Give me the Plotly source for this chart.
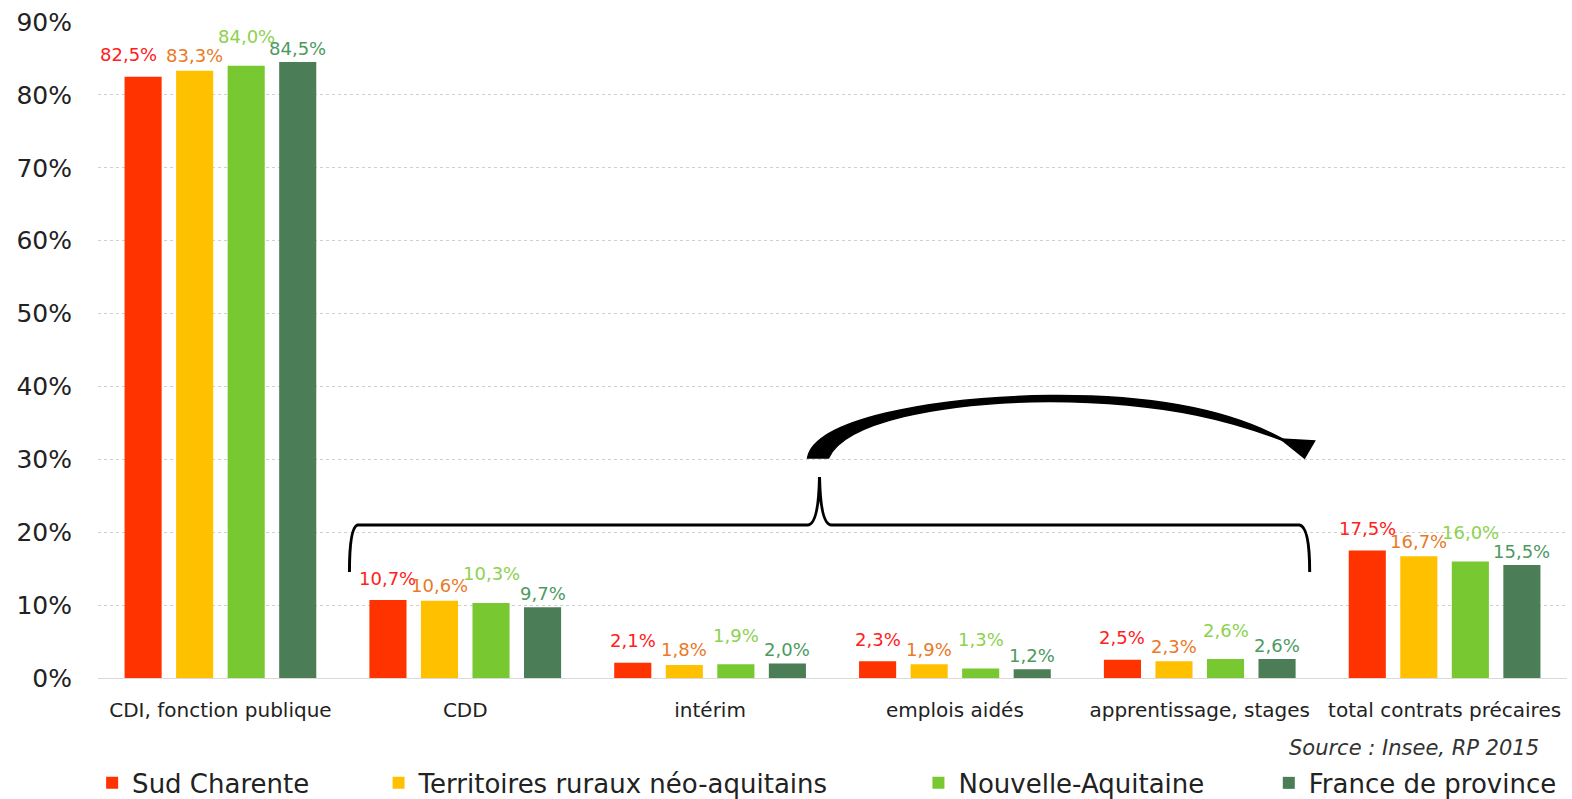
import plotly.graph_objects as go

categories = ["CDI, fonction publique", "CDD", "intérim", "emplois aidés",
              "apprentissage, stages", "total contrats précaires"]
series_names = ["Sud Charente", "Territoires ruraux néo-aquitains",
                "Nouvelle-Aquitaine", "France de province"]
sud_charente = [82.5, 10.7, 2.1, 2.3, 2.5, 17.5]
territoires_ruraux = [83.3, 10.6, 1.8, 1.9, 2.3, 16.7]
nouvelle_aquitaine = [84.0, 10.3, 1.9, 1.3, 2.6, 16.0]
france_province = [84.5, 9.7, 2.0, 1.2, 2.6, 15.5]
y_tick_values = [0, 10, 20, 30, 40, 50, 60, 70, 80, 90]
y_tick_labels = ["0%", "10%", "20%", "30%", "40%", "50%", "60%", "70%", "80%", "90%"]
source_text = "Source : Insee, RP 2015"

series_values = [sud_charente, territoires_ruraux, nouvelle_aquitaine, france_province]
bar_colors = ["#FF3300", "#FFC000", "#78C832", "#4B7D57"]
label_colors = ["#FF2020", "#E87A28", "#8CD24E", "#4C9A5E"]
label_shift = [22, 15, 29, 14]
label_xnudge = {(0, 0): -15}
legend_x = [-0.004, 0.191, 0.5585, 0.797]

FONT = "DejaVu Sans"
BARGAP = 0.158

fig = go.Figure()
legend_keys = ["legend", "legend2", "legend3", "legend4"]
for j, (name, vals) in enumerate(zip(series_names, series_values)):
    fig.add_trace(go.Bar(
        x=categories, y=vals, name=name, marker_color=bar_colors[j],
        marker_line_width=0, legend=legend_keys[j], hoverinfo="x+y+name",
    ))

# value labels
slot = (1 - BARGAP) / 4
annotations = []
for j, vals in enumerate(series_values):
    for i, v in enumerate(vals):
        annotations.append(dict(
            x=i + (j - 1.5) * slot, y=v, xref="x2", yref="y",
            text=f"{v:.1f}%".replace(".", ","), showarrow=False,
            yanchor="middle", yshift=label_shift[j], xshift=label_xnudge.get((j, i), 0),
            font=dict(family=FONT, size=18, color=label_colors[j]),
        ))
annotations.append(dict(
    x=1.0 - 0.018, y=-0.106, xref="paper", yref="paper", xanchor="right", yanchor="middle",
    text=f"<i>{source_text}</i>", showarrow=False,
    font=dict(family=FONT, size=21, color="#333333"),
))

# brace (decoration) in category-index / percent units
brace = ("M 0.527 14.54 Q 0.527 20.6 0.560 21.0 L 2.398 21.0 "
         "Q 2.443 21.0 2.447 27.58 Q 2.451 21.0 2.496 21.0 L 4.408 21.0 "
         "Q 4.449 20.7 4.449 14.54")
arrow_body = ("M 2.398 30.18 C 2.426 35.40 2.896 38.55 3.386 38.75 "
              "C 3.877 38.90 4.163 36.08 4.346 32.65 "
              "L 4.375 32.10 C 4.163 35.00 3.877 37.90 3.386 37.95 "
              "C 2.937 37.80 2.549 35.12 2.484 30.18 Z")
arrow_head = "M 4.330 32.79 L 4.469 32.51 L 4.428 30.18 Z"
shapes = [
    dict(type="path", path=brace, xref="x2", yref="y",
         line=dict(color="black", width=3)),
    dict(type="path", path=arrow_body, xref="x2", yref="y",
         fillcolor="black", line=dict(color="black", width=1.5)),
    dict(type="path", path=arrow_head, xref="x2", yref="y",
         fillcolor="black", line=dict(color="black", width=1.5)),
]

legend_common = dict(orientation="h", y=-0.16, yanchor="middle", xanchor="left",
                     font=dict(family=FONT, size=26, color="#222222"),
                     bgcolor="rgba(0,0,0,0)", borderwidth=0, itemclick=False)
layout_legends = {}
for k, key in enumerate(legend_keys):
    layout_legends[key] = dict(legend_common, x=legend_x[k])

fig.update_layout(
    width=1572, height=799,
    margin=dict(l=98, r=5, t=22, b=121, autoexpand=False),
    paper_bgcolor="white", plot_bgcolor="white",
    barmode="group", bargap=BARGAP, bargroupgap=0.28,
    font=dict(family=FONT, color="#222222"),
    showlegend=True,
    xaxis=dict(showgrid=False, zeroline=False, showline=True, linecolor="#d9d9d9",
               linewidth=1, ticks="", tickfont=dict(family=FONT, size=20, color="#222222"),
               ticklabelstandoff=14, range=[-0.5, 5.5], automargin=False),
    xaxis2=dict(overlaying="x", range=[-0.5, 5.5], visible=False),
    yaxis=dict(range=[0, 90], tickvals=y_tick_values, ticktext=y_tick_labels,
               showgrid=True, gridcolor="#cfcfcf", griddash="dot", gridwidth=1,
               zeroline=False, showline=False, ticks="",
               tickfont=dict(family=FONT, size=25, color="#222222"),
               ticklabelstandoff=25, automargin=False, ticklabeloverflow="allow"),
    annotations=annotations,
    shapes=shapes,
    **layout_legends,
)

# remove the default page margin so the figure fills the window exactly
fig.write_html(
    "out.html",
    config={"displayModeBar": False},
    post_script="document.body.style.margin='0';document.body.style.overflow='hidden';",
)
